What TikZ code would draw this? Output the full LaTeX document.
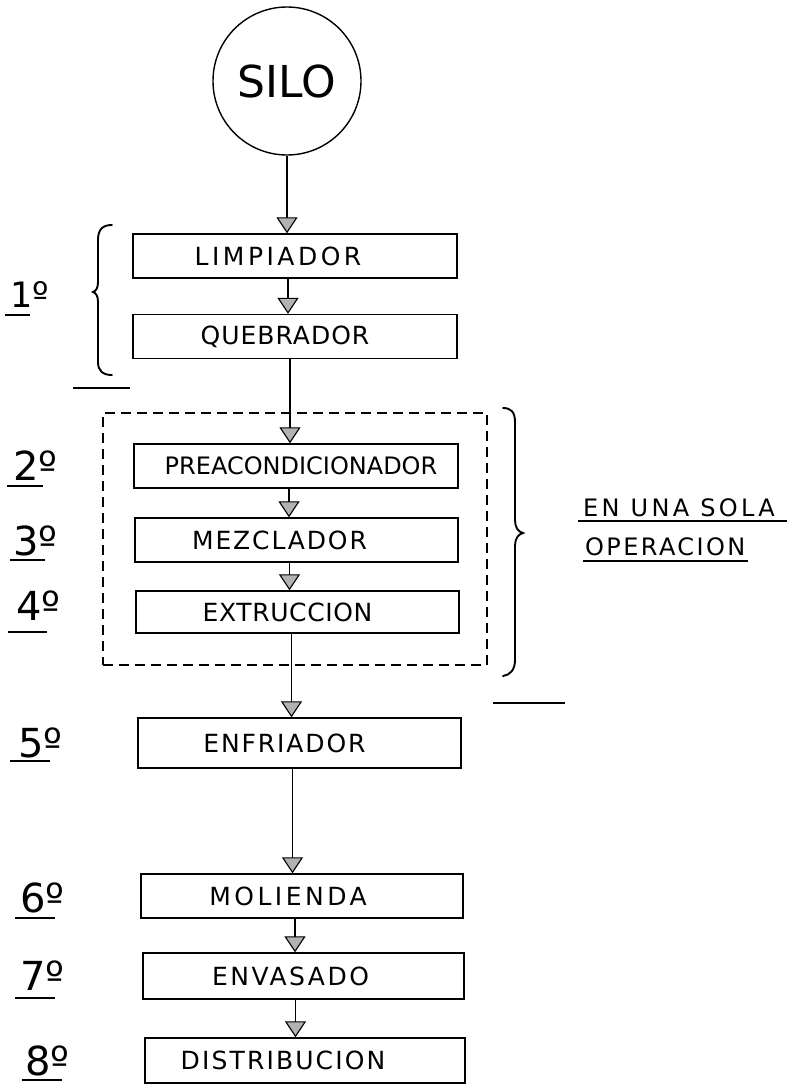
\documentclass[tikz,border=0pt]{standalone}
\usepackage{fontspec}
\setmainfont{DejaVu Sans}
\usetikzlibrary{arrows.meta}
\newcommand\lsp[2]{{\addfontfeatures{LetterSpace=#1}#2}}
\begin{document}
\begin{tikzpicture}[x=1pt,y=-1pt,
  box/.style={draw, line width=1.4pt, minimum height=44pt, inner sep=0pt, font=\fontsize{25}{25}\selectfont},
  flow/.style={line width=1.4pt, -{Triangle[width=21pt,length=16pt,fill=gray!60,line width=1.1pt]}},
  grpbox/.style={draw, line width=1.7pt, dash pattern=on 10pt off 6pt, inner sep=0pt},
  lab/.style={inner sep=0pt, anchor=base west, font=\fontsize{40}{40}\selectfont},
  ul/.style={line width=1.4pt},
  brc/.style={line width=1.9pt, line cap=round},
  note/.style={inner sep=0pt, anchor=base west, font=\fontsize{24}{24}\selectfont}
]
\useasboundingbox[fill=white] (0,0) rectangle (792,1085);

% start
\node[draw, circle, minimum size=148pt, line width=1.4pt, inner sep=0pt,
      font=\fontsize{44}{44}\selectfont] (silo) at (287,81) {SILO};

% process boxes
\node[box, minimum width=324pt] (limp) at (295,256) {\lsp{14}{LIMPIADOR}\hspace*{34pt}};
\node[box, minimum width=324pt] (queb) at (295,336.5) {\lsp{4}{QUEBRADOR}\hspace*{20pt}};
\node[box, minimum width=324pt, font=\fontsize{24}{24}\selectfont] (prea) at (296,466) {\hspace*{10pt}PREACONDICIONADOR};
\node[box, minimum width=323pt] (mez) at (296.5,540) {\lsp{7.5}{MEZCLADOR}\hspace*{34pt}};
\node[box, minimum width=323pt, minimum height=42pt] (extr) at (297.5,612) {\lsp{2.5}{EXTRUCCION}\hspace*{20pt}};
\node[box, minimum width=323pt, minimum height=50pt] (enfr) at (299.5,743) {\lsp{7.5}{ENFRIADOR}\hspace*{30pt}};
\node[box, minimum width=322pt] (mol) at (302,896) {\lsp{14}{MOLIENDA}\hspace*{28pt}};
\node[box, minimum width=321pt, minimum height=46pt] (env) at (303.5,976) {\lsp{10}{ENVASADO}\hspace*{26pt}};
\node[box, minimum width=320pt, minimum height=45pt] (dist) at (305,1060.5) {\lsp{8.5}{DISTRIBUCION}\hspace*{44pt}};

% dashed group
\node[grpbox, minimum width=384pt, minimum height=252pt] (grp) at (295,539) {};

% connectors
\draw[flow] (silo.south) -- (silo.south |- limp.north);
\draw[flow] ([xshift=-7pt]limp.south) -- ([xshift=-7pt]limp.south |- queb.north);
\draw[flow] ([xshift=-5pt]queb.south) -- ([xshift=-5pt]queb.south |- prea.north);
\draw[flow] ([xshift=-7pt]prea.south) -- ([xshift=-7pt]prea.south |- mez.north);
\draw[flow] ([xshift=-7pt]mez.south) -- ([xshift=-7pt]mez.south |- extr.north);
\draw[flow] ([xshift=-6pt]extr.south) -- ([xshift=-6pt]extr.south |- enfr.north);
\draw[flow] ([xshift=-7pt]enfr.south) -- ([xshift=-7pt]enfr.south |- mol.north);
\draw[flow] ([xshift=-7pt]mol.south) -- ([xshift=-7pt]mol.south |- env.north);
\draw[flow] ([xshift=-8pt]env.south) -- ([xshift=-8pt]env.south |- dist.north);

% braces
\draw[brc] (112,225) .. controls (103,225) and (98,229) .. (98,240) -- (98,282)
  .. controls (98,288) and (96,291) .. (93,292)
  .. controls (96,293) and (98,296) .. (98,302) -- (98,362)
  .. controls (98,371) and (103,375) .. (112,375);
\draw[brc] (503,408) .. controls (511,408) and (515,412) .. (515,422) -- (515,520)
  .. controls (515,527) and (518,532) .. (523,533)
  .. controls (518,534) and (515,539) .. (515,546) -- (515,660)
  .. controls (515,670) and (510,675) .. (503,676);

% stray rules
\draw[ul] (73,388) -- (130,388);
\draw[ul] (493,703) -- (565,703);

% step labels
\node[lab, font=\fontsize{35}{35}\selectfont] (s1) at (10,307) {1º};
\draw[ul] (5,315) -- (30,315);
\node[lab] (s2) at (13,480) {2º};
\draw[ul] (7,486) -- (43,486);
\node[lab] (s3) at (13,555) {3º};
\draw[ul] (10,560) -- (45,560);
\node[lab] (s4) at (16,620) {4º};
\draw[ul] (8,632) -- (47,632);
\node[lab] (s5) at (18,757) {5º};
\draw[ul] (10,761) -- (50,761);
\node[lab] (s6) at (20,912) {6º};
\draw[ul] (15,918) -- (55,918);
\node[lab] (s7) at (20,990) {7º};
\draw[ul] (15,998) -- (55,998);
\node[lab] (s8) at (25,1075) {8º};
\draw[ul] (22,1080) -- (62,1080);

% side note
\node[note] (op1) at (583,516) {\lsp{14}{EN UNA SOLA}};
\draw[ul] (578,521) -- (787,521);
\node[note] (op2) at (585,555) {\lsp{10}{OPERACION}};
\draw[ul] (583,561) -- (748,561);
\end{tikzpicture}
\end{document}
